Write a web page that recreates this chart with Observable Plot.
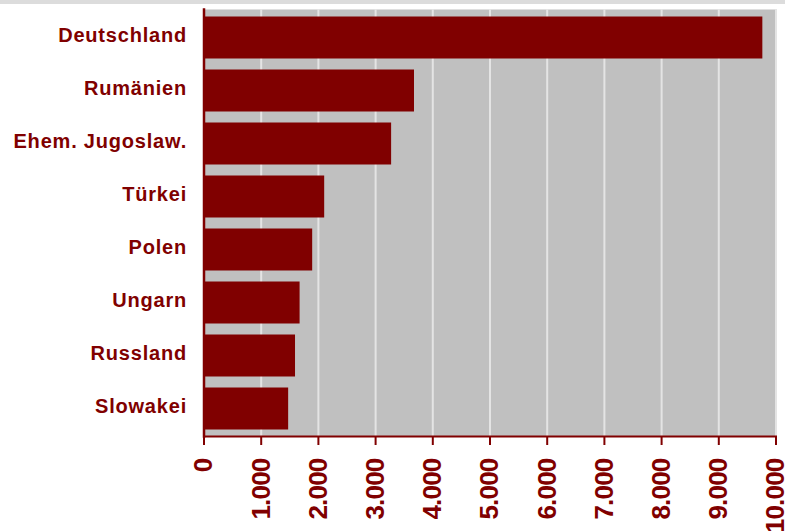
<!DOCTYPE html>
<html>
<head>
<meta charset="utf-8">
<script src="https://cdn.jsdelivr.net/npm/d3@7"></script>
<script src="https://cdn.jsdelivr.net/npm/@observablehq/plot@0.6"></script>
<style>
  html, body { margin: 0; padding: 0; background: #ffffff; }
  #strip { height: 4px; background: #dcdcdc; }
  #chart svg { display: block; }
  .ylab text { letter-spacing: 0.8px; }
  .xlab text { letter-spacing: -0.8px; }
</style>
</head>
<body>
<div id="strip"></div>
<div id="chart"></div>
<script>
const countries = ["Deutschland", "Rumänien", "Ehem. Jugoslaw.", "Türkei", "Polen", "Ungarn", "Russland", "Slowakei"];
const values = [9770, 3680, 3280, 2110, 1900, 1680, 1600, 1480];
const xTicks = [0, 1000, 2000, 3000, 4000, 5000, 6000, 7000, 8000, 9000, 10000];
const xTickLabels = ["0", "1.000", "2.000", "3.000", "4.000", "5.000", "6.000", "7.000", "8.000", "9.000", "10.000"];

const data = countries.map((c, i) => ({country: c, value: values[i]}));
const red = "#800000";

const chart = Plot.plot({
  width: 785,
  height: 527,
  marginLeft: 203.5,
  marginRight: 9.5,
  marginTop: 5,
  marginBottom: 95,
  style: {fontFamily: "'Liberation Sans', Arial, sans-serif", background: "#ffffff"},
  x: {domain: [0, 10000]},
  y: {domain: countries, padding: 0},
  marks: [
    Plot.frame({fill: "#c0c0c0", stroke: null}),
    Plot.gridX(xTicks, {stroke: "#e4e4e4", strokeOpacity: 1, strokeWidth: 2}),
    Plot.barX(data, {x: "value", y: "country", fill: red, insetTop: 5.5, insetBottom: 5.5}),
    Plot.frame({anchor: "left", stroke: red, strokeWidth: 2.5}),
    Plot.frame({anchor: "bottom", stroke: red, strokeWidth: 2}),
    Plot.axisX(xTicks, {
      tickFormat: (d, i) => xTickLabels[i],
      tickRotate: -90,
      tickSize: 9,
      tickPadding: 13,
      stroke: red,
      strokeWidth: 2,
      fill: red,
      fontSize: 26,
      fontWeight: "bold",
      label: null,
      className: "xlab"
    }),
    Plot.axisY({
      tickSize: 0,
      tickPadding: 17,
      dy: -2,
      fill: red,
      fontSize: 20,
      fontWeight: "bold",
      label: null,
      className: "ylab"
    })
  ]
});
document.getElementById("chart").appendChild(chart);
</script>
</body>
</html>
